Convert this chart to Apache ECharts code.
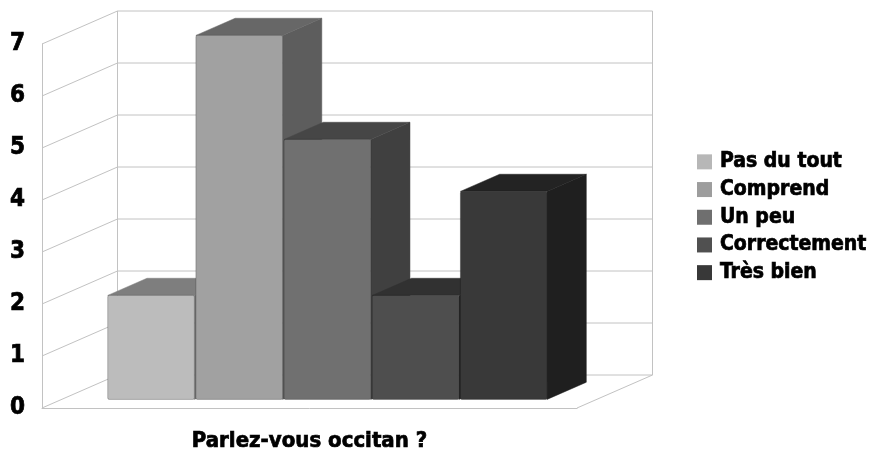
<!DOCTYPE html>
<html>
<head>
<meta charset="utf-8">
<script src="https://cdn.jsdelivr.net/npm/echarts@6/dist/echarts.min.js"></script>
<style>
  html, body { margin: 0; padding: 0; background: #fff; }
  #chart { width: 875px; height: 453px; }
</style>
</head>
<body>
<div id="chart"></div>
<script>
// Survey: "Parlez-vous occitan ?" — number of answers per level
const categories = ['Parlez-vous occitan ?'];
const seriesNames = ['Pas du tout', 'Comprend', 'Un peu', 'Correctement', 'Très bien'];
const seriesValues = [2, 7, 5, 2, 4];
const yTicks = [0, 1, 2, 3, 4, 5, 6, 7];

// Face shades for each series: legend swatch, front, top, side
const legendColors = ['#b7b7b7', '#9d9d9d', '#6f6f6f', '#505050', '#383838'];
const frontColors  = ['#bcbcbc', '#a1a1a1', '#707070', '#4e4e4e', '#393939'];
const topColors    = ['#7e7e7e', '#676767', '#464646', '#313131', '#232323'];
const sideColors   = ['#727272', '#5d5d5d', '#404040', '#2b2b2b', '#1f1f1f'];

// Oblique projection of the depth axis (pixels for the full floor depth)
const DX = 75.5, DY = -33;
// Bars occupy this slice of the depth
const Z0 = 0.26, Z1 = 0.78;
// Fraction of the category band left empty around the bar group
const CAT_GAP = 0.176;

const FONT = "'DejaVu Sans Condensed', 'Liberation Sans Narrow', 'DejaVu Sans', sans-serif";
const GRID_COLOR = '#c2c2c2';
// Heavy display lettering: bold text thickened with a thin outline
const heavyText = { fontFamily: FONT, fontWeight: 'bold', color: '#000',
                    textBorderColor: '#000', textBorderWidth: 0.7 };

const chart = echarts.init(document.getElementById('chart'), null, { renderer: 'canvas' });

function wallRenderer(params, api) {
  const cs = params.coordSys;
  const t = api.value(0);
  const y = api.coord([0, t])[1];
  const left = cs.x, right = cs.x + cs.width;
  const style = { stroke: GRID_COLOR, lineWidth: 1 };
  const children = [
    // left wall diagonal
    { type: 'line', shape: { x1: left, y1: y, x2: left + DX, y2: y + DY }, style: style },
    // back wall gridline
    { type: 'line', shape: { x1: left + DX, y1: y + DY, x2: right + DX, y2: y + DY }, style: style }
  ];
  if (t === yTicks[0]) {
    const yTop = api.coord([0, yTicks[yTicks.length - 1]])[1];
    children.push(
      { type: 'line', shape: { x1: right, y1: y, x2: right + DX, y2: y + DY }, style: style },
      { type: 'line', shape: { x1: left + DX, y1: y + DY, x2: left + DX, y2: yTop + DY }, style: style },
      { type: 'line', shape: { x1: right + DX, y1: y + DY, x2: right + DX, y2: yTop + DY }, style: style }
    );
  }
  return { type: 'group', children: children };
}

function barRenderer(idx) {
  return function (params, api) {
    const v = api.value(1);
    const base = api.coord([api.value(0), 0]);
    const top = api.coord([api.value(0), v]);
    const band = api.size([1, 0])[0];
    const groupW = band * (1 - CAT_GAP);
    const bw = groupW / seriesNames.length;
    const x0 = base[0] - groupW / 2 + idx * bw + Z0 * DX - 1;
    const x1 = x0 + bw - 1.5;
    const yb = base[1] + Z0 * DY;
    const yt = top[1] + Z0 * DY;
    const ddx = (Z1 - Z0) * DX, ddy = (Z1 - Z0) * DY;
    return {
      type: 'group',
      children: [
        { type: 'polygon',
          shape: { points: [[x1, yt], [x1 + ddx, yt + ddy], [x1 + ddx, yb + ddy], [x1, yb]] },
          style: { fill: sideColors[idx], stroke: sideColors[idx], lineWidth: 0.5 } },
        { type: 'polygon',
          shape: { points: [[x0, yt], [x1, yt], [x1 + ddx, yt + ddy], [x0 + ddx, yt + ddy]] },
          style: { fill: topColors[idx], stroke: topColors[idx], lineWidth: 0.5 } },
        { type: 'rect',
          shape: { x: x0, y: yt, width: x1 - x0, height: yb - yt, r: 1.5 },
          style: { fill: frontColors[idx], stroke: 'rgba(0,0,0,0.22)', lineWidth: 1 } }
      ]
    };
  };
}

const series = [{
  type: 'custom',
  name: 'walls',
  silent: true,
  z: 1,
  renderItem: wallRenderer,
  data: yTicks.map(t => [t])
}];
seriesNames.forEach((name, i) => {
  series.push({
    type: 'custom',
    name: name,
    z: 2,
    itemStyle: { color: legendColors[i] },
    renderItem: barRenderer(i),
    data: categories.map((c, k) => [k, seriesValues[i]])
  });
});

chart.setOption({
  animation: false,
  backgroundColor: '#ffffff',
  grid: { left: 42, right: 298, top: 44, bottom: 45 },
  xAxis: {
    type: 'category',
    data: categories,
    axisLine: { show: true, lineStyle: { color: GRID_COLOR } },
    axisTick: { show: false },
    axisLabel: Object.assign({ margin: 22, fontSize: 22 }, heavyText)
  },
  yAxis: {
    type: 'value',
    min: 0, max: 7, interval: 1,
    axisLine: { show: true, lineStyle: { color: GRID_COLOR } },
    axisTick: { show: false },
    splitLine: { show: false },
    axisLabel: Object.assign({ margin: 17, fontSize: 24 }, heavyText)
  },
  legend: {
    orient: 'vertical',
    left: 697,
    top: 151,
    padding: 0,
    data: seriesNames,
    icon: 'rect',
    itemWidth: 15,
    itemHeight: 15,
    itemGap: 6,
    textStyle: Object.assign({ fontSize: 21, lineHeight: 21, padding: [0, 0, 0, 3] }, heavyText)
  },
  series: series
});
</script>
</body>
</html>
